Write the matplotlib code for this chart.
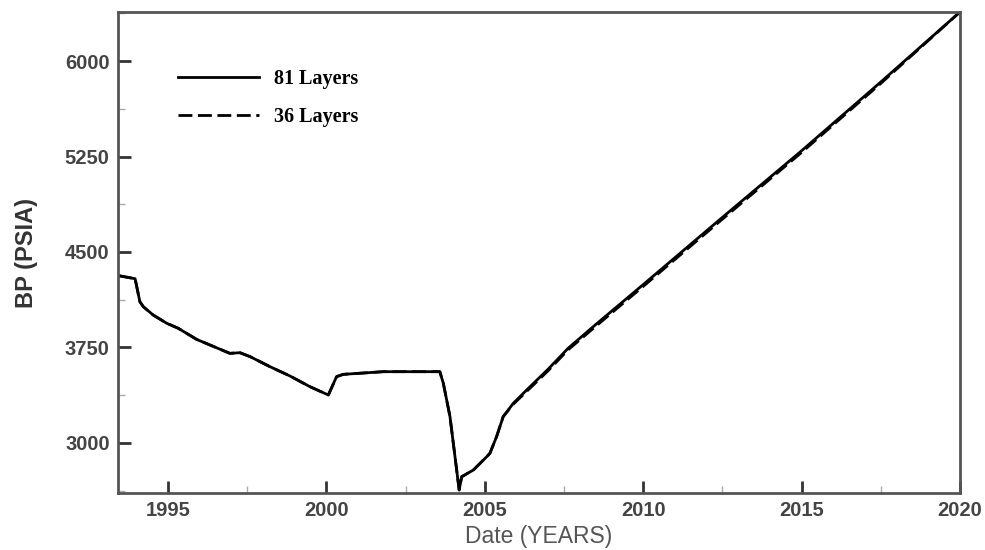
import numpy as np
import matplotlib.pyplot as plt
from matplotlib.ticker import MultipleLocator

# bottom-hole pressure
years_81 = [1993.42, 1993.96, 1994.11, 1994.22, 1994.53, 1994.96, 1995.32, 1995.90,
            1996.32, 1996.95, 1997.27, 1997.59, 1998.22, 1998.85, 1999.48, 2000.06,
            2000.32, 2000.53, 2001.79, 2003.58, 2003.69, 2003.90, 2004.19, 2004.27,
            2004.64, 2004.74, 2005.06, 2005.16, 2005.37, 2005.58, 2005.90, 2006.32,
            2007.00, 2007.63, 2008.50, 2010.00, 2012.50, 2015.00, 2017.50, 2020.00]
bp_81 = [4315, 4290, 4110, 4070, 4005, 3940, 3901, 3814,
         3770, 3704, 3709, 3678, 3599, 3526, 3442, 3377,
         3521, 3539, 3560, 3560, 3469, 3207, 2631, 2735,
         2788, 2813, 2892, 2919, 3049, 3207, 3312, 3416,
         3580, 3744, 3930, 4244, 4772, 5295, 5835, 6385]

years_36 = years_81
bp_36 = [4315, 4290, 4110, 4070, 4005, 3940, 3901, 3814,
         3770, 3704, 3709, 3678, 3599, 3526, 3442, 3377,
         3521, 3539, 3560, 3560, 3469, 3207, 2631, 2735,
         2788, 2813, 2892, 2919, 3049, 3207, 3305, 3405,
         3568, 3732, 3916, 4230, 4758, 5282, 5824, 6385]

yticks = [3000, 3750, 4500, 5250, 6000]
xticks = [1995, 2000, 2005, 2010, 2015, 2020]

fig = plt.figure(figsize=(9.85, 5.5), dpi=100)
ax = fig.add_axes([0.1198, 0.1036, 0.8548, 0.8746])

ax.plot(years_81, bp_81, color="black", lw=2.0, label="81 Layers")
ax.plot(years_36, bp_36, color="black", lw=2.0, dashes=(5, 2), label="36 Layers")

ax.set_xlim(1993.42, 2020)
ax.set_ylim(2607, 6385)
ax.set_xticks(xticks)
ax.set_yticks(yticks)
ax.xaxis.set_minor_locator(MultipleLocator(2.5))
ax.yaxis.set_minor_locator(MultipleLocator(375))

for s in ax.spines.values():
    s.set_color("#555555")
    s.set_linewidth(2)
ax.tick_params(which="major", direction="in", length=9, width=2, color="#333333",
               labelsize=14.5, labelcolor="#444444", pad=6)
ax.tick_params(which="minor", direction="in", length=5, width=1, color="#aaaaaa")
for lab in ax.get_xticklabels() + ax.get_yticklabels():
    lab.set_fontweight("bold")
    lab.set_fontfamily("Liberation Sans")

ax.set_xlabel("Date (YEARS)", fontsize=16.5, color="#555555", family="Liberation Sans", labelpad=3)
ax.set_ylabel("BP (PSIA)", fontsize=17, color="#333333", family="Liberation Sans",
              fontweight="bold", labelpad=19)

leg = ax.legend(loc="upper left", bbox_to_anchor=(0.05, 0.92), frameon=False,
                handlelength=4.0, handletextpad=0.75, labelspacing=0.9,
                prop={"family": "Liberation Serif", "weight": "bold", "size": 14.5})

plt.savefig("out.png", dpi=100)
